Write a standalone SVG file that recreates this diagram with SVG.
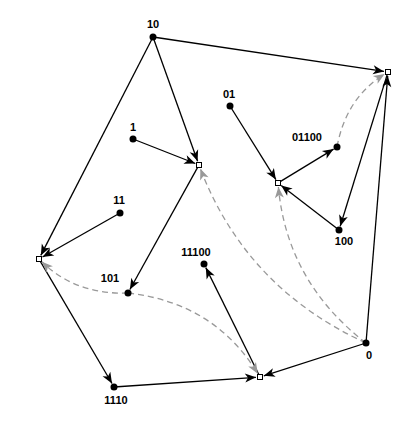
<svg xmlns="http://www.w3.org/2000/svg" width="416" height="421" viewBox="0 0 416 421">
<style>
.e{stroke:#000;stroke-width:1.3;fill:none;marker-end:url(#ab)}
.d{stroke:#999;stroke-width:1.3;fill:none;stroke-dasharray:6,4;marker-end:url(#ag)}
.dot{fill:#000}
.sq{fill:#fff;stroke:#000;stroke-width:1}
.lb{font-family:"Liberation Sans",Arial,sans-serif;font-size:11px;font-weight:bold;fill:#000;text-anchor:middle}
</style>
<defs>
<marker id="ab" markerUnits="userSpaceOnUse" viewBox="-12 -6 13 12" refX="0" refY="0" markerWidth="13" markerHeight="12" orient="auto">
<path d="M0,0 L-11,-4.5 L-8,0 L-11,4.5 Z" fill="#000"/>
</marker>
<marker id="ag" markerUnits="userSpaceOnUse" viewBox="-12 -6 13 12" refX="0" refY="0" markerWidth="13" markerHeight="12" orient="auto">
<path d="M0,0 L-11,-4.5 L-8,0 L-11,4.5 Z" fill="#999"/>
</marker>
</defs>
<rect width="416" height="421" fill="#fff"/>
<g id="connectors">
<line class="e" x1="153" y1="37" x2="384" y2="71.4"/>
<line class="e" x1="153" y1="37" x2="197.6" y2="161.2"/>
<line class="e" x1="153" y1="37" x2="40.8" y2="255.4"/>
<line class="e" x1="133" y1="139" x2="195.3" y2="163.5"/>
<line class="e" x1="197.5" y1="167.6" x2="129.9" y2="289.5"/>
<line class="e" x1="120" y1="213" x2="42.5" y2="257"/>
<line class="e" x1="40.5" y1="261.6" x2="112" y2="383.5"/>
<line class="e" x1="114" y1="387" x2="256" y2="377.3"/>
<line class="e" x1="366" y1="343" x2="263.8" y2="375.8"/>
<line class="e" x1="258.7" y1="374.3" x2="205.8" y2="267.6"/>
<line class="e" x1="366" y1="343" x2="387.7" y2="76"/>
<line class="e" x1="387.1" y1="74.9" x2="340.2" y2="226.2"/>
<line class="e" x1="339" y1="230" x2="281.2" y2="185.4"/>
<line class="e" x1="230" y1="106" x2="275.9" y2="179.6"/>
<line class="e" x1="280.6" y1="181.4" x2="333.6" y2="149.1"/>
<path class="d" d="M337,147 Q346,98 384.6,74.1"/>
<path class="d" d="M366,343 Q246,288 200.4,168.7"/>
<path class="d" d="M366,343 Q287,282 278.4,187"/>
<path class="d" d="M128,293 Q76,295 41.9,261.8"/>
<path class="d" d="M128,293 Q215,303 257.8,373.7"/>
</g>
<g id="n10"><circle class="dot" cx="153" cy="37" r="3.5"/><text class="lb" x="153" y="28">10</text></g>
<g id="n1"><circle class="dot" cx="133" cy="139" r="3.5"/><text class="lb" x="133" y="131">1</text></g>
<g id="n11"><circle class="dot" cx="120" cy="213" r="3.5"/><text class="lb" x="119" y="204">11</text></g>
<g id="n101"><circle class="dot" cx="128" cy="293" r="3.5"/><text class="lb" x="110" y="282">101</text></g>
<g id="n11100"><circle class="dot" cx="204" cy="264" r="3.5"/><text class="lb" x="196" y="256">11100</text></g>
<g id="n1110"><circle class="dot" cx="114" cy="387" r="3.5"/><text class="lb" x="116" y="404">1110</text></g>
<g id="n01"><circle class="dot" cx="230" cy="106" r="3.5"/><text class="lb" x="229" y="98">01</text></g>
<g id="n01100"><circle class="dot" cx="337" cy="147" r="3.5"/><text class="lb" x="307" y="141">01100</text></g>
<g id="n100"><circle class="dot" cx="339" cy="230" r="3.5"/><text class="lb" x="344" y="245">100</text></g>
<g id="n0"><circle class="dot" cx="366" cy="343" r="3.5"/><text class="lb" x="369" y="359">0</text></g>
<g id="sA"><rect class="sq" x="196.5" y="162.5" width="5" height="5"/></g>
<g id="sB"><rect class="sq" x="385.5" y="69.5" width="5" height="5"/></g>
<g id="sC"><rect class="sq" x="275.5" y="180.5" width="5" height="5"/></g>
<g id="sD"><rect class="sq" x="36.5" y="256.5" width="5" height="5"/></g>
<g id="sE"><rect class="sq" x="257.5" y="374.5" width="5" height="5"/></g>
</svg>
